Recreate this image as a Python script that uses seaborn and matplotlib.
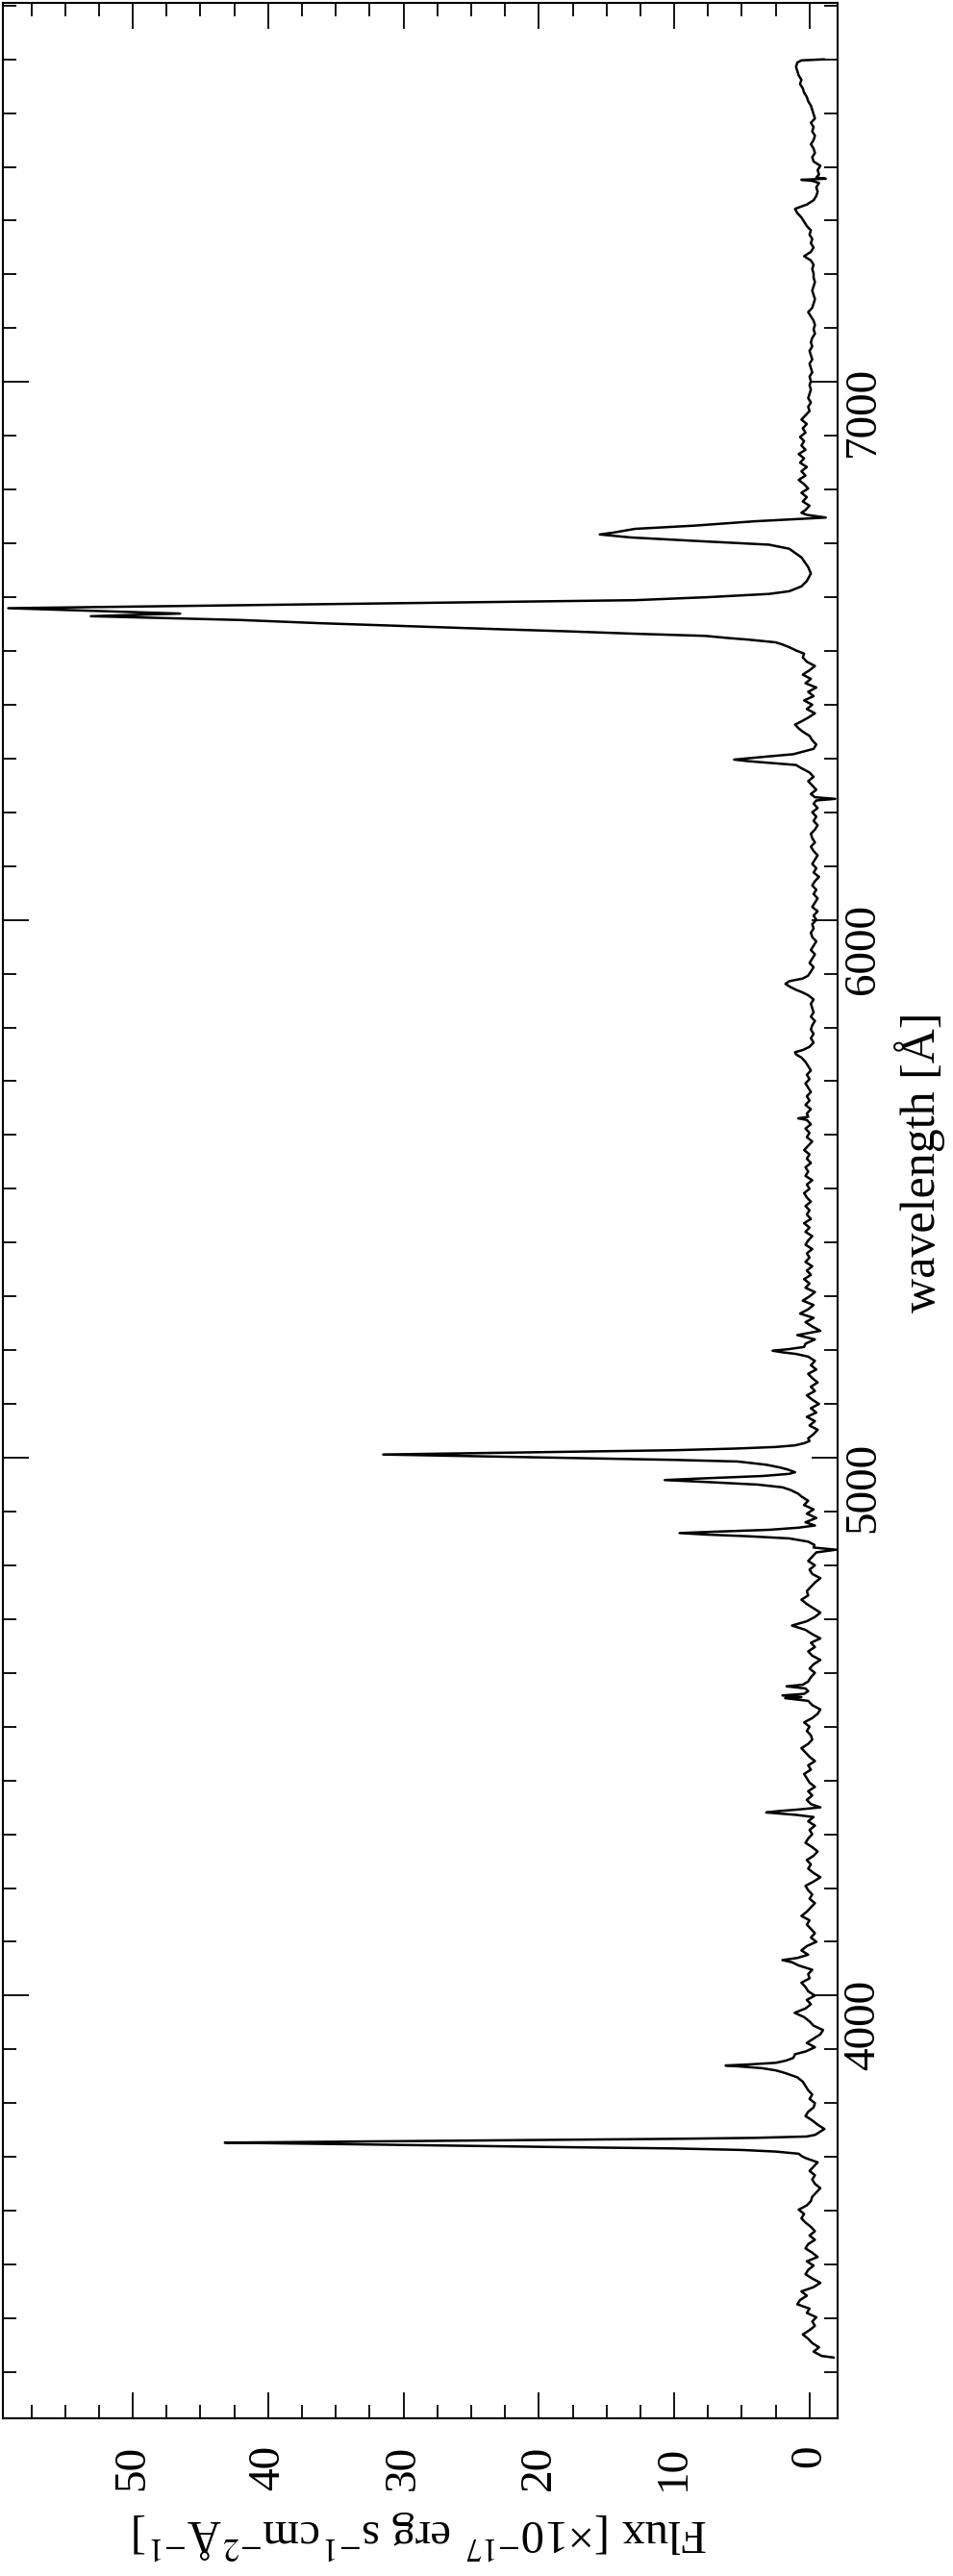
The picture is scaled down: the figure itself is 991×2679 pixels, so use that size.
import matplotlib
matplotlib.use("Agg")
import matplotlib.pyplot as plt
import numpy as np
import pandas as pd
import seaborn as sns
from matplotlib.ticker import MultipleLocator


# continuum stretches, one value every STEP Angstrom
STEP = 8.0

cont_3330 = [-0.9, -0.3, -0.7, -0.2, 0.1, 0.5, 0.0, -0.4, -0.2, -0.5, 0.2, 0.0,
             0.9, 0.7, 0.2, 0.6, -0.3, -0.8, -0.2, 0.3, 0.1, -0.3, 0.2, -0.6,
             -0.2, 0.3, 0.1, -0.4, 0.0, -0.4, -0.1, 0.3, 0.6, 0.4, 0.8, 0.2,
             -0.1, -0.2, -0.5, -0.8, -0.4, -0.2, -0.4, 0.0, -0.3, -0.6, 0.3]
cont_3744 = [-0.6, -1.1, -0.6, -0.2, 0.3, 0.1, -0.3, -0.4, 0.0, -0.2, 0.1, 0.3,
             0.5, 0.9, 1.8]
cont_3896 = [0.3, -0.4, 0.2, -0.3, -0.8, -1.0, -0.3, 0.0, 0.4, 1.1, 0.3, -0.1,
             0.2, -0.4, 0.1, 0.3, 0.6, 0.0, 0.1, -0.2, 0.8]
cont_4076 = [0.1, 0.6, 0.2, -0.5, -0.1, -0.4, -0.1, 0.2, 0.0, 0.6, 0.2, -0.1,
             -0.4, 0.0, -0.2, 0.1, 0.3, -0.3, -0.8, -0.3, 0.1, -0.1, 0.2, -0.3,
             -0.6, -0.2, 0.3, 0.1, -0.2, 0.0, -0.4, 0.1, -0.3]
cont_4356 = [-0.1, 0.2, -0.2, 0.1, -0.4, 0.0, 0.2, 0.4, -0.1, 0.1, -0.4, 0.0,
             0.3, 0.6, 0.1, -0.2, -0.1, 0.2, 0.0, 0.4, -0.2, -0.6, -0.8, -0.2,
             0.1]
cont_4584 = [0.1, -0.1, -0.4, 0.0, -0.3, -0.8, -0.2, 0.1, -0.4, -0.1, -0.8, -0.2,
             0.3, 1.3, 0.2, -0.4, -0.8, -0.3, 0.2, 0.6, 0.1, 0.2, -0.1, -0.4,
             -0.8, -0.2, 0.0, -0.4, 0.1, -0.2]
cont_4880 = [0.3, -0.5, 0.2, -0.3, 0.4, 0.1, 0.6]
cont_5036 = [0.1, -0.3, -0.6, 0.0, -0.4, 0.2, -0.5, -0.1, -0.7, -0.2, 0.2, -0.4,
             -0.1, -0.6, -0.2, 0.1, -0.5, -0.1, -0.4, 0.1]
cont_5212 = [0.3, -0.4, 0.9, -0.8, -0.2, 0.3, -0.3, 0.7, 0.1, -0.3, 0.5, 0.0,
             -0.4, 0.3, 0.0, 0.4, -0.1, 0.2, -0.2, 0.3, 0.0, 0.2, -0.2, 0.3,
             0.1, -0.2, 0.3, 0.0, 0.4, -0.1, 0.2, 0.0, 0.3, -0.1, 0.2, 0.4,
             0.0, 0.2, -0.2, 0.3, 0.1, 0.3, -0.1, 0.2, 0.0, 0.4, 0.1, -0.2,
             0.2, 0.0, 0.3, -0.1]
cont_5640 = [0.2, -0.1, 0.3, 0.0, 0.2, -0.1, 0.1, 0.3, 0.0, 0.2, -0.1, 0.1,
             0.3, 0.6]
cont_5764 = [0.0, -0.3, -0.1, -0.3, -0.1, -0.2, -0.4, -0.1, -0.3, -0.2, -0.1, -0.3,
             0.1]
cont_5904 = [-0.1, -0.3, 0.0, -0.2, -0.4, -0.1, -0.3, -0.5, -0.2, -0.1, -0.3, -0.2,
             -0.5, -0.3, -0.6, -0.2, -0.4, -0.6, -0.3, -0.5, -0.2, -0.4, -0.7, -0.3,
             -0.5, -0.2, -0.4, -0.6, -0.3, -0.1, -0.4, -0.2, -0.1, -0.4, -0.6, -0.3,
             -0.5, -0.2, -0.6, -0.3]
cont_6234 = [-0.1, -0.5, -0.2, 0.1, -0.3, 0.0, 0.6]
cont_6318 = [-0.3, -0.5, -0.2, 0.0]
cont_6376 = [0.1, -0.4, 0.2, -0.2, 0.4, -0.3, 0.1, -0.5, 0.3, -0.1, 0.5, 0.0,
             -0.4, 0.2, 0.5]
cont_6762 = [0.3, 0.0, 0.5, 0.2, 0.6, 0.1, 0.4, 0.8, 0.3, 0.6, 0.2, 0.7,
             0.4, 0.8, 0.3, 0.6, 0.4, 0.7, 0.3, 0.5, 0.2, 0.6, 0.3, 0.0,
             0.1, -0.1, 0.1, 0.0, -0.1]
cont_6994 = [0.0, -0.1, 0.0, -0.2, -0.1, 0.0, -0.2, -0.1, 0.0, -0.2, -0.1, -0.2,
             -0.4, -0.3, -0.4, -0.3, -0.1, 0.1, -0.2, -0.3, -0.4, -0.3, -0.2, -0.3,
             -0.4, -0.3, -0.3, -0.2, -0.3, -0.1, 0.4, -0.1, -0.3, -0.1, -0.2, 0.0,
             -0.1, 0.2, 0.4, 0.6, 0.9, 1.07, 0.2, -0.3, -0.5, -0.6, -0.5, -0.7]
cont_7386 = [-0.7, -0.6, -0.8, -0.3, -0.2, -0.4, -0.3, -0.1, -0.3, -0.4, -0.2, -0.3,
             -0.1, -0.4, -0.3, -0.2, -0.1, 0.1, 0.2, 0.4, 0.5, 0.7, 0.6, 0.8,
             0.9, 1.0, 0.9]

continuum = [(3330, cont_3330), (3744, cont_3744), (3896, cont_3896),
             (4076, cont_4076), (4356, cont_4356), (4584, cont_4584),
             (4880, cont_4880), (5036, cont_5036), (5212, cont_5212),
             (5640, cont_5640), (5764, cont_5764), (5904, cont_5904),
             (6234, cont_6234), (6318, cont_6318), (6376, cont_6376),
             (6762, cont_6762), (6994, cont_6994), (7386, cont_7386)]

# emission lines, spikes and the two ends of the spectrum
line_wave = [3327, 3702, 3706, 3710, 3713, 3715.8, 3718, 3721, 3724, 3726.6,
             3729, 3731.5, 3733.7, 3735.5, 3738, 3741,
             3861, 3865, 3868, 3870, 3872, 3875, 3879, 3884, 3891,
             4062, 4066, 4070,
             4336, 4338.5, 4340.5, 4343, 4346, 4350,
             4553, 4555, 4558, 4561, 4566, 4571, 4575, 4578,
             4824, 4829, 4833, 4838, 4844, 4850, 4854, 4857, 4860, 4862.5,
             4866, 4870, 4874,
             4933, 4940, 4945, 4950, 4955, 4958.5, 4961, 4963, 4966, 4970,
             4973, 4978, 4982, 4987, 4993, 4996, 4998, 5000, 5003, 5006,
             5008, 5010, 5012, 5014, 5017, 5020, 5023, 5027, 5031,
             5193, 5196, 5199, 5202, 5206,
             5628, 5631, 5634,
             5750, 5754, 5758,
             5866, 5870, 5875, 5881, 5886, 5891, 5896,
             6222, 6225, 6228,
             6288, 6292, 6295, 6298, 6301, 6304, 6308, 6312,
             6350, 6356, 6363, 6369,
             6495, 6501, 6507, 6512, 6516, 6521, 6524, 6528, 6532, 6536.6,
             6540, 6545, 6551.6, 6557.5, 6561, 6564.6, 6569.5, 6579.5, 6594.4,
             6600, 6606, 6611, 6620, 6630, 6644, 6656, 6674, 6690, 6697.6,
             6704, 6711, 6716.6, 6720, 6727, 6733, 6741, 6748, 6753, 6757,
             7374, 7376, 7378, 7380,
             7598, 7600]
line_flux = [-1.8, 0.6, 0.8, 2.5, 5.0, 10.0, 17.5, 26.0, 35.0, 43.2,
             32.0, 20.5, 10.0, 4.0, 0.2, -0.4,
             2.5, 3.5, 5.0, 6.2, 4.5, 2.5, 1.76, 1.2, 1.07,
             1.3, 2.0, 0.9,
             1.0, 2.2, 3.2, 2.3, 0.8, -0.8,
             1.8, 0.6, 2.0, 0.4, 0.1, 0.3, 1.7, 0.5,
             -0.5, -1.95, -0.3, -0.36, 0.1, 1.5, 4.5, 7.5, 9.6, 7.0,
             3.0, 0.8, -0.4,
             0.83, 1.4, 2.0, 3.8, 7.7, 10.7, 8.5, 6.5, 3.5, 1.5,
             1.07, 1.6, 2.2, 3.2, 5.3, 10.0, 14.3, 18.6, 25.0, 31.5,
             26.0, 20.8, 15.4, 10.0, 5.5, 2.5, 1.07, 0.4, 0.0,
             1.0, 2.0, 2.73, 1.5, 0.4,
             0.2, 0.83, 0.1,
             1.0, 1.07, 0.5,
             0.6, 1.0, 1.4, 1.78, 1.5, 0.5, 0.12,
             -0.5, -1.9, -0.4,
             1.0, 3.0, 4.5, 5.57, 4.3, 3.0, 1.2, 0.6,
             0.5, 0.8, 1.07, 0.6,
             0.4, 1.0, 1.5, 2.0, 2.5, 4.5, 6.0, 7.7, 12.9, 18.0,
             22.4, 28.3, 36.2, 42.0, 47.5, 53.1, 46.5, 59.2, 12.9,
             7.5, 3.0, 1.5, 0.6, 0.2, -0.1, 0.1, 0.6, 1.5, 3.0,
             8.0, 13.2, 15.5, 14.5, 12.9, 8.5, 4.1, -1.2, 0.2, 0.6,
             -0.2, 0.6, -1.2, -0.5,
             0.6, -1.1]

FLUX_TICKS = [0, 10, 20, 30, 40, 50]
WAVE_TICKS = [4000, 5000, 6000, 7000]


def build_spectrum() -> pd.DataFrame:
    waves = [np.asarray(line_wave, dtype=float)]
    fluxes = [np.asarray(line_flux, dtype=float)]
    for start, values in continuum:
        waves.append(start + STEP * np.arange(len(values)))
        fluxes.append(np.asarray(values, dtype=float))
    df = pd.DataFrame({"wavelength": np.concatenate(waves),
                       "flux": np.concatenate(fluxes)})
    return df.sort_values("wavelength").reset_index(drop=True)


def main() -> None:
    sns.set_theme(style="ticks")
    plt.rcParams["font.family"] = ["Liberation Serif", "DejaVu Serif"]
    plt.rcParams["mathtext.fontset"] = "stix"

    df = build_spectrum()

    fig = plt.figure(figsize=(9.91, 26.79), dpi=100)
    ax = fig.add_axes([0.003, 0.0612, 0.876, 0.9377])

    sns.lineplot(data=df, x="flux", y="wavelength", orient="y", sort=False,
                 estimator=None, color="black", linewidth=1.8, ax=ax)

    ax.set_xlim(59.6, -2.08)
    ax.set_ylim(3214, 7705)

    ax.set_xticks(FLUX_TICKS)
    ax.set_yticks(WAVE_TICKS)
    ax.xaxis.set_minor_locator(MultipleLocator(2.5))
    ax.yaxis.set_minor_locator(MultipleLocator(100))

    ax.tick_params(which="both", direction="in", top=True, bottom=True,
                   left=True, right=True, color="black", width=1.3)
    ax.tick_params(which="major", length=19.5)
    ax.tick_params(which="minor", length=10)
    ax.tick_params(axis="x", labelsize=34, labelrotation=90, pad=20,
                   labelcolor="black")
    ax.tick_params(axis="y", labelleft=False, labelright=True, labelsize=34,
                   labelrotation=90, pad=4, labelcolor="black")

    for spine in ax.spines.values():
        spine.set_visible(True)
        spine.set_color("black")
        spine.set_linewidth(1.5)

    ax.set_xlabel("Flux [×10$^{-17}$ erg s$^{-1}$cm$^{-2}$Å$^{-1}$]",
                  fontsize=35, rotation=180, labelpad=13, color="black")
    ax.yaxis.set_label_position("right")
    ax.set_ylabel("wavelength [Å]", fontsize=36, rotation=90, labelpad=8,
                  color="black")
    ax.yaxis.label.set_y(0.52)

    fig.savefig("out.png", dpi=100)
    plt.close(fig)


if __name__ == "__main__":
    main()
